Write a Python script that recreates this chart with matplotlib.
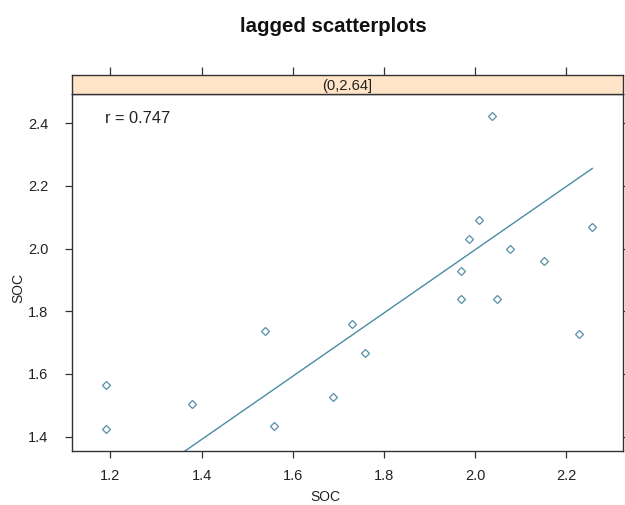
import numpy as np
import matplotlib
matplotlib.use("Agg")
import matplotlib.pyplot as plt

plt.rcParams['font.family'] = ['Liberation Sans', 'DejaVu Sans']

# 데이터
soc_x = [1.190, 1.190, 1.379, 1.538, 1.559, 1.688, 1.729, 1.758, 1.968,
         1.968, 1.987, 2.008, 2.038, 2.047, 2.077, 2.150, 2.227, 2.257]
soc_y = [1.566, 1.424, 1.505, 1.737, 1.435, 1.527, 1.758, 1.667, 1.839,
         1.928, 2.030, 2.090, 2.423, 1.838, 1.999, 1.960, 1.726, 2.070]
fit_slope = 1.0095
fit_intercept = -0.0225
r_text = "r = 0.747"
strip_label = "(0,2.64]"
x_ticks = [1.2, 1.4, 1.6, 1.8, 2.0, 2.2]
y_ticks = [1.4, 1.6, 1.8, 2.0, 2.2, 2.4]

W, H = 625, 505
fig = plt.figure(figsize=(W / 100, H / 100), dpi=100)

# 패널 위치 (픽셀 기준)
left, right, bottom, top, strip_top = 71.9, 623.3, 451, 94.3, 75
ax = fig.add_axes([left / W, 1 - bottom / H, (right - left) / W, (bottom - top) / H])
strip = fig.add_axes([left / W, 1 - top / H, (right - left) / W, (top - strip_top) / H], sharex=ax)

pt_color = "#5590aa"
line_color = "#4a8ca5"
edge = "#333333"
txt = "#222222"

ax.plot(soc_x, soc_y, linestyle="none", marker="D", markersize=3.8,
        markerfacecolor="none", markeredgecolor=pt_color, markeredgewidth=0.9)

xs = np.array([min(soc_x), max(soc_x)])
ax.plot(xs, fit_intercept + fit_slope * xs, color=line_color, linewidth=1.0)

ax.set_xlim(1.1154, 2.325)
ax.set_ylim(1.354, 2.4926)
ax.set_xticks(x_ticks)
ax.set_yticks(y_ticks)
ax.set_xticklabels([f"{v:.1f}" for v in x_ticks])
ax.set_yticklabels([f"{v:.1f}" for v in y_ticks])
ax.tick_params(direction="out", length=5, width=0.9, color=edge, labelsize=10.5,
               labelcolor=txt, top=False, right=True, labelright=False)
ax.tick_params(axis="x", pad=8)
ax.tick_params(axis="y", pad=12)
for s in ax.spines.values():
    s.set_color(edge)
    s.set_linewidth(1.0)

ax.text(1.188, 2.414, r_text, ha="left", va="center", fontsize=11.8, color=txt)

# 스트립
strip.set_facecolor("#ffe4c8")
strip.set_ylim(0, 1)
strip.text(0.5, 0.45, strip_label, transform=strip.transAxes, ha="center", va="center",
           fontsize=10.6, color=txt)
strip.xaxis.set_ticks_position("top")
strip.tick_params(axis="x", direction="out", length=6, width=0.9, color=edge,
                  top=True, bottom=False, labeltop=False, labelbottom=False)
strip.set_yticks([])
for s in strip.spines.values():
    s.set_color(edge)
    s.set_linewidth(1.0)

# 축 이름과 제목
fig.text(325 / W, 1 - 497 / H, "SOC", ha="center", va="center", fontsize=10, color=txt)
fig.text(18 / W, 1 - 288 / H, "SOC", ha="center", va="center", rotation=90,
         fontsize=10, color=txt)
fig.text(333 / W, 1 - 27 / H, "lagged scatterplots", ha="center", va="center",
         fontsize=14.7, fontweight="bold", color="#111111")

fig.savefig("out.png", dpi=100, facecolor="white")
